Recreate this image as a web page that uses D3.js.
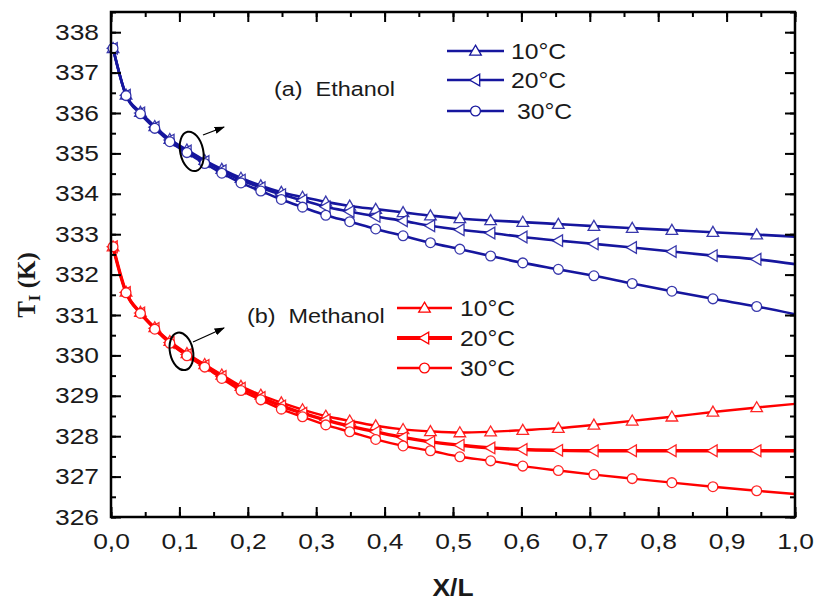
<!DOCTYPE html>
<html>
<head>
<meta charset="utf-8">
<script src="https://cdn.jsdelivr.net/npm/d3@7"></script>
<style>
  html, body { margin: 0; padding: 0; background: #fff; }
  svg { display: block; }
  .pre { white-space: pre; }
</style>
</head>
<body>
<svg id="chart" width="815" height="600"></svg>
<script>
// ---- data ----
const xPos = [0.003, 0.022, 0.043, 0.064, 0.086, 0.111, 0.137, 0.162, 0.19, 0.219, 0.249, 0.28, 0.314, 0.349, 0.387, 0.427, 0.467, 0.51, 0.555, 0.602, 0.654, 0.706, 0.762, 0.82, 0.88, 0.944, 1.0];

const ethanol10 = [337.6, 336.45, 336.02, 335.67, 335.35, 335.09, 334.83, 334.61, 334.39, 334.2, 334.04, 333.92, 333.8, 333.7, 333.62, 333.54, 333.46, 333.39, 333.34, 333.3, 333.25, 333.2, 333.15, 333.1, 333.05, 332.99, 332.94];
const ethanol20 = [337.6, 336.44, 336.0, 335.65, 335.33, 335.06, 334.8, 334.57, 334.34, 334.15, 333.98, 333.84, 333.68, 333.56, 333.44, 333.33, 333.21, 333.11, 333.03, 332.93, 332.84, 332.76, 332.67, 332.57, 332.47, 332.38, 332.26];
const ethanol30 = [337.6, 336.43, 335.98, 335.62, 335.29, 335.02, 334.75, 334.51, 334.27, 334.07, 333.86, 333.67, 333.47, 333.31, 333.13, 332.96, 332.79, 332.63, 332.46, 332.29, 332.13, 331.97, 331.78, 331.59, 331.4, 331.21, 331.02];

const methanol10 = [332.69, 331.57, 331.07, 330.69, 330.35, 330.05, 329.78, 329.52, 329.24, 329.02, 328.83, 328.66, 328.5, 328.38, 328.26, 328.17, 328.12, 328.09, 328.11, 328.15, 328.2, 328.28, 328.38, 328.48, 328.6, 328.71, 328.8];
const methanol20 = [332.69, 331.56, 331.05, 330.67, 330.32, 330.02, 329.75, 329.48, 329.19, 328.96, 328.75, 328.57, 328.4, 328.25, 328.11, 327.97, 327.86, 327.78, 327.71, 327.67, 327.65, 327.64, 327.64, 327.64, 327.64, 327.64, 327.64];
const methanol30 = [332.69, 331.55, 331.04, 330.65, 330.3, 329.99, 329.71, 329.43, 329.13, 328.9, 328.67, 328.48, 328.28, 328.11, 327.92, 327.76, 327.64, 327.49, 327.39, 327.26, 327.15, 327.05, 326.95, 326.85, 326.75, 326.65, 326.57];

const seriesLabels = ["10°C", "20°C", "30°C"];
const seriesSymbols = ["up", "left", "circle"];
const xTicks = [0, 0.1, 0.2, 0.3, 0.4, 0.5, 0.6, 0.7, 0.8, 0.9, 1.0];
const yTicks = [326, 327, 328, 329, 330, 331, 332, 333, 334, 335, 336, 337, 338];
const groupNames = ["(a)  Ethanol", "(b)  Methanol"];

// ---- layout ----
const svg = d3.select("#chart");
const L = 111, R = 795, T = 12, B = 517;
const x = d3.scaleLinear().domain([0, 1]).range([L, R]);
const y = d3.scaleLinear().domain([326, 338.5]).range([B, T]);

const BLUE = "#16169e", RED = "#ff0000";
const FONT = "'Liberation Sans', Arial, sans-serif";
const SX = 1.2;

const groups = [
  { color: BLUE, series: [ethanol10, ethanol20, ethanol30], widths: [2.6, 2.6, 2.6] },
  { color: RED, series: [methanol10, methanol20, methanol30], widths: [2.4, 3.4, 2.4] }
];

function symbolPath(kind) {
  if (kind === "circle") return d3.symbol(d3.symbolCircle, 75)();
  if (kind === "up") return "M0,-5.8L5.8,4.2L-5.8,4.2Z";
  return "M-5.8,0L4.2,-5.8L4.2,5.8Z";
}

const plot = svg.append("g");
const line = d3.line().x(d => x(d[0])).y(d => y(d[1])).curve(d3.curveMonotoneX);

groups.forEach(g => {
  g.series.forEach((vals, i) => {
    const pts = xPos.map((xv, k) => [xv, vals[k]]);
    plot.append("path")
      .attr("d", line(pts))
      .attr("fill", "none")
      .attr("stroke", g.color)
      .attr("stroke-width", g.widths[i]);
    plot.selectAll(null)
      .data(pts.slice(0, pts.length - 1))
      .enter().append("path")
      .attr("transform", d => `translate(${x(d[0])},${y(d[1])})`)
      .attr("d", symbolPath(seriesSymbols[i]))
      .attr("fill", "#fff")
      .attr("stroke", g.color)
      .attr("stroke-width", 1.3)
      .attr("stroke-opacity", 0.85);
  });
});

// ---- axes ----
const fmt = d => d3.format(".1f")(d).replace(".", ",");
const xMinor = d3.range(0, 1.0001, 0.05);
const yMinor = d3.range(326, 338.51, 0.5);

function styleAxis(sel) {
  sel.select(".domain").remove();
  sel.selectAll("line").attr("stroke", "#000").attr("stroke-width", 2);
}

svg.append("g").attr("transform", `translate(0,${B})`)
  .call(d3.axisBottom(x).tickValues(xMinor).tickSize(-5).tickFormat("")).call(styleAxis);
svg.append("g").attr("transform", `translate(0,${T})`)
  .call(d3.axisTop(x).tickValues(xMinor).tickSize(-5).tickFormat("")).call(styleAxis);
svg.append("g").attr("transform", `translate(${L},0)`)
  .call(d3.axisLeft(y).tickValues(yMinor).tickSize(-5).tickFormat("")).call(styleAxis);
svg.append("g").attr("transform", `translate(${R},0)`)
  .call(d3.axisRight(y).tickValues(yMinor).tickSize(-5).tickFormat("")).call(styleAxis);

const xAx = svg.append("g").attr("transform", `translate(0,${B})`)
  .call(d3.axisBottom(x).tickValues(xTicks).tickSize(-10).tickPadding(16).tickFormat(fmt)).call(styleAxis);
xAx.selectAll("text").attr("font-family", FONT).attr("font-size", 22).attr("fill", "#1a1a1a")
  .attr("transform", `scale(${SX},1)`);
svg.append("g").attr("transform", `translate(0,${T})`)
  .call(d3.axisTop(x).tickValues(xTicks).tickSize(-10).tickFormat("")).call(styleAxis);
const yAx = svg.append("g").attr("transform", `translate(${L},0)`)
  .call(d3.axisLeft(y).tickValues(yTicks).tickSize(-10).tickPadding(12).tickFormat(d3.format("d"))).call(styleAxis);
yAx.selectAll("text").attr("font-family", FONT).attr("font-size", 22).attr("fill", "#1a1a1a")
  .attr("x", -12 / SX).attr("transform", `scale(${SX},1)`);
svg.append("g").attr("transform", `translate(${R},0)`)
  .call(d3.axisRight(y).tickValues(yTicks).tickSize(-10).tickFormat("")).call(styleAxis);

svg.append("rect").attr("x", L).attr("y", T).attr("width", R - L).attr("height", B - T)
  .attr("fill", "none").attr("stroke", "#000").attr("stroke-width", 2.5);

// axis titles
svg.append("text")
  .attr("x", (L + R) / 2 / 1.1).attr("y", 596)
  .attr("transform", "scale(1.1,1)")
  .attr("text-anchor", "middle")
  .attr("font-family", FONT).attr("font-weight", "bold").attr("font-size", 24)
  .attr("fill", "#1a1a1a")
  .text("X/L");

const yt = svg.append("text")
  .attr("transform", "translate(35,285) rotate(-90)")
  .attr("text-anchor", "middle")
  .attr("font-family", "'Liberation Serif', 'Times New Roman', serif")
  .attr("font-weight", "bold").attr("font-size", 25).attr("fill", "#1a1a1a");
yt.append("tspan").text("T");
yt.append("tspan").attr("font-size", 17).attr("dy", 5).text("I");
yt.append("tspan").attr("dy", -5).text(" (K)");

// group labels
svg.append("text").attr("class", "pre").attr("x", 274 / SX).attr("y", 96).attr("transform", `scale(${SX},1)`)
  .attr("font-family", FONT).attr("font-size", 19.5).attr("fill", "#1a1a1a").text(groupNames[0]);
svg.append("text").attr("class", "pre").attr("x", 247 / SX).attr("y", 323).attr("transform", `scale(${SX},1)`)
  .attr("font-family", FONT).attr("font-size", 19.5).attr("fill", "#1a1a1a").text(groupNames[1]);

// legends
const legends = [
  { color: BLUE, x0: 447, x1: 504, tx: [511, 511, 517], ys: [51, 80, 111], widths: [2.6, 2.6, 2.6] },
  { color: RED, x0: 397, x1: 452, tx: [460, 460, 460], ys: [308, 338, 368], widths: [2.6, 4, 2.6] }
];
legends.forEach(lg => {
  seriesLabels.forEach((lab, i) => {
    const gy = lg.ys[i];
    svg.append("line").attr("x1", lg.x0).attr("x2", lg.x1).attr("y1", gy).attr("y2", gy)
      .attr("stroke", lg.color).attr("stroke-width", lg.widths[i]);
    svg.append("path").attr("transform", `translate(${(lg.x0 + lg.x1) / 2},${gy})`)
      .attr("d", symbolPath(seriesSymbols[i]))
      .attr("fill", "#fff").attr("stroke", lg.color).attr("stroke-width", 1.3);
    svg.append("text").attr("x", lg.tx[i] / 1.15).attr("y", gy + 8).attr("transform", "scale(1.15,1)")
      .attr("font-family", FONT).attr("font-size", 21.5).attr("fill", "#1a1a1a").text(lab);
  });
});

// ellipses with arrows
svg.append("defs").append("marker").attr("id", "arrow")
  .attr("viewBox", "0 0 10 10").attr("refX", 9).attr("refY", 5)
  .attr("markerWidth", 8).attr("markerHeight", 8).attr("orient", "auto")
  .append("path").attr("d", "M0,1.5L10,5L0,8.5Z").attr("fill", "#000");

const callouts = [
  { cx: x(0.118), cy: y(335.05), rx: 11.5, ry: 20, ax0: 203, ay0: 135, ax1: 224, ay1: 127 },
  { cx: x(0.103), cy: y(330.1), rx: 11.5, ry: 19, ax0: 193, ay0: 342, ax1: 224, ay1: 328 }
];
callouts.forEach(c => {
  svg.append("ellipse").attr("cx", c.cx).attr("cy", c.cy).attr("rx", c.rx).attr("ry", c.ry)
    .attr("transform", `rotate(-12,${c.cx},${c.cy})`)
    .attr("fill", "none").attr("stroke", "#000").attr("stroke-width", 2);
  svg.append("line").attr("x1", c.ax0).attr("y1", c.ay0).attr("x2", c.ax1).attr("y2", c.ay1)
    .attr("stroke", "#000").attr("stroke-width", 1.3).attr("marker-end", "url(#arrow)");
});
</script>
</body>
</html>
